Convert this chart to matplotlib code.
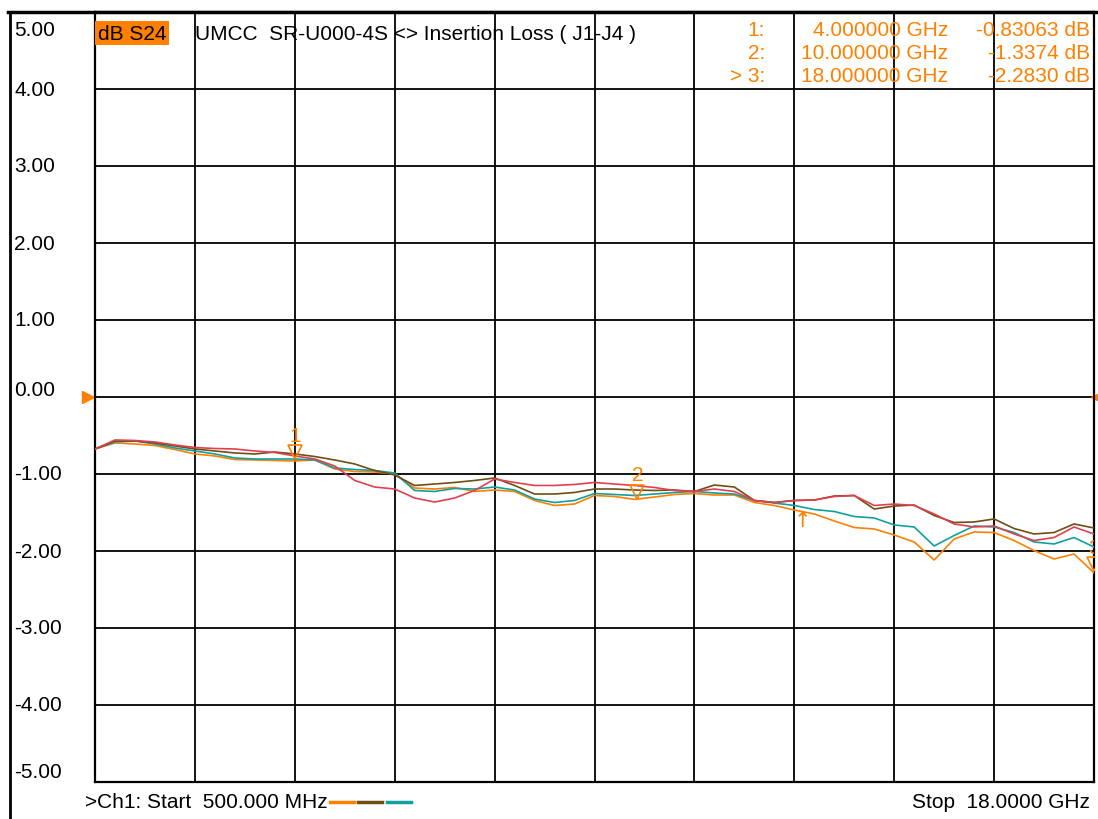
import numpy as np
import matplotlib
matplotlib.use('Agg')
import matplotlib.pyplot as plt
from matplotlib.lines import Line2D
import matplotlib.transforms as mtransforms

plt.rcParams['font.family'] = ['Liberation Sans', 'DejaVu Sans']

# sweep points, GHz
freq = [0.5, 0.85, 1.2, 1.55, 1.9, 2.25, 2.6, 2.95, 3.3, 3.65, 4.0, 4.35, 4.7,
        5.05, 5.4, 5.75, 6.1, 6.45, 6.8, 7.15, 7.5, 7.85, 8.2, 8.55, 8.9, 9.25,
        9.6, 9.95, 10.3, 10.65, 11.0, 11.35, 11.7, 12.05, 12.4, 12.75, 13.1,
        13.45, 13.8, 14.15, 14.5, 14.85, 15.2, 15.55, 15.9, 16.25, 16.6, 16.95,
        17.3, 17.65, 18.0]

s_orange = [-0.675, -0.597, -0.610, -0.630, -0.682, -0.740, -0.766, -0.812, -0.818,
            -0.825, -0.831, -0.818, -0.935, -0.968, -0.974, -1.000, -1.182, -1.195,
            -1.175, -1.227, -1.208, -1.227, -1.344, -1.409, -1.390, -1.279, -1.292,
            -1.330, -1.299, -1.266, -1.253, -1.273, -1.273, -1.370, -1.409, -1.468,
            -1.519, -1.610, -1.695, -1.714, -1.792, -1.883, -2.117, -1.844, -1.753,
            -1.760, -1.864, -1.994, -2.104, -2.039, -2.283]

s_teal = [-0.675, -0.584, -0.571, -0.610, -0.662, -0.701, -0.740, -0.792, -0.805,
          -0.805, -0.805, -0.818, -0.922, -0.942, -0.955, -0.987, -1.214, -1.227,
          -1.188, -1.195, -1.169, -1.208, -1.325, -1.370, -1.344, -1.253, -1.266,
          -1.279, -1.260, -1.240, -1.227, -1.247, -1.260, -1.344, -1.377, -1.409,
          -1.461, -1.487, -1.552, -1.571, -1.662, -1.688, -1.935, -1.799, -1.675,
          -1.688, -1.760, -1.883, -1.909, -1.825, -1.948]

s_brown = [-0.675, -0.571, -0.571, -0.597, -0.636, -0.675, -0.701, -0.727, -0.740,
           -0.714, -0.740, -0.773, -0.818, -0.870, -0.955, -1.013, -1.149, -1.130,
           -1.110, -1.084, -1.052, -1.149, -1.260, -1.260, -1.240, -1.195, -1.195,
           -1.208, -1.214, -1.208, -1.227, -1.143, -1.169, -1.344, -1.370, -1.344,
           -1.338, -1.286, -1.279, -1.455, -1.416, -1.403, -1.539, -1.630, -1.623,
           -1.584, -1.708, -1.779, -1.760, -1.649, -1.701]

s_red = [-0.675, -0.558, -0.565, -0.584, -0.623, -0.656, -0.669, -0.675, -0.701,
         -0.721, -0.766, -0.805, -0.896, -1.084, -1.169, -1.195, -1.312, -1.364,
         -1.312, -1.214, -1.065, -1.110, -1.149, -1.149, -1.136, -1.110, -1.130,
         -1.149, -1.175, -1.214, -1.227, -1.195, -1.227, -1.344, -1.370, -1.344,
         -1.338, -1.292, -1.279, -1.409, -1.390, -1.409, -1.519, -1.649, -1.688,
         -1.675, -1.779, -1.864, -1.825, -1.688, -1.779]

y_ticks = [5, 4, 3, 2, 1, 0, -1, -2, -3, -4, -5]
marker_freq = [4.0, 10.0, 18.0]
marker_val = [-0.83063, -1.3374, -2.2830]
marker_rows = [('1:', '4.000000 GHz', '-0.83063 dB'),
               ('2:', '10.000000 GHz', '-1.3374 dB'),
               ('> 3:', '18.000000 GHz', '-2.2830 dB')]

ORANGE = '#ff8000'
TEAL = '#10a0a0'
BROWN = '#6e4e14'
RED = '#e04050'

W, H = 1098, 820
fig = plt.figure(figsize=(W / 100, H / 100), dpi=100)
fig.patch.set_facecolor('white')


def fx(px):
    return px / W


def fy(py):
    return 1 - py / H


ax = fig.add_axes([fx(95), fy(783), (1094 - 95) / W, (783 - 13) / H])
ax.set_xlim(0.5, 18.0)
ax.set_ylim(-5, 5)
ax.set_xticks(np.arange(0.5, 18.01, 1.75))
ax.set_yticks(y_ticks)
ax.tick_params(length=0, labelleft=False, labelbottom=False)
ax.grid(True, color='black', lw=1.3)
for sp in ax.spines.values():
    sp.set_linewidth(1.6)

ax.plot(freq, s_orange, color=ORANGE, lw=1.2, zorder=3)
ax.plot(freq, s_teal, color=TEAL, lw=1.2, zorder=3)
ax.plot(freq, s_brown, color=BROWN, lw=1.2, zorder=3)
ax.plot(freq, s_red, color=RED, lw=1.2, zorder=3)

# markers
for i, (f, v) in enumerate(zip(marker_freq, marker_val)):
    ax.plot(f, v + 0.11, marker='v', ms=10, mfc='none', mec=ORANGE, mew=1.2,
            zorder=4)
    ax.text(f, v + 0.33, str(i + 1), color=ORANGE, fontsize=15, ha='center',
            va='center', zorder=4, clip_on=True)
ax.text(12.9, -1.47, '↑', color=ORANGE, fontsize=15, ha='center', va='top',
        family=['DejaVu Sans'])

# reference level arrow
tr = mtransforms.blended_transform_factory(ax.transAxes, ax.transData)
ax.plot([-0.007], [0], marker='>', ms=9, color=ORANGE, transform=tr,
        clip_on=False)
ax.plot([1.0], [0], marker='<', ms=4, color=ORANGE, transform=tr, clip_on=False)

# outer frame
fig.add_artist(Line2D([fx(10), fx(10)], [fy(13), fy(820)], color='black', lw=2))
fig.add_artist(Line2D([fx(8), fx(1098)], [fy(13), fy(13)], color='black', lw=2.5))

# y labels
for v in y_ticks:
    py = 13 + (5 - v) * 77
    if v == 5:
        py = 31
    elif v == -5:
        py = 773
    elif v == 0:
        py = 391
    fig.text(fx(14), fy(py), f'{v:.2f}', fontsize=15, ha='left', va='center')

# header
fig.text(fx(98), fy(34), 'dB S24', fontsize=15, ha='left', va='center',
         bbox=dict(facecolor=ORANGE, edgecolor='none', pad=2))
fig.text(fx(195), fy(34), 'UMCC  SR-U000-4S <> Insertion Loss ( J1-J4 )',
         fontsize=15, ha='left', va='center')
for k, (a, b, c) in enumerate(marker_rows):
    py = 31 + k * 22.5
    fig.text(fx(765), fy(py), a, fontsize=15, color=ORANGE, ha='right', va='center')
    fig.text(fx(948), fy(py), b, fontsize=15, color=ORANGE, ha='right', va='center')
    fig.text(fx(1090), fy(py), c, fontsize=15, color=ORANGE, ha='right', va='center')

# footer
fig.text(fx(85), fy(803), '>Ch1: Start  500.000 MHz', fontsize=15, ha='left',
         va='center')
for x0, col in zip([330, 358, 387], [ORANGE, BROWN, TEAL]):
    fig.add_artist(Line2D([fx(x0), fx(x0 + 24)], [fy(803), fy(803)], color=col,
                          lw=2.5))
fig.text(fx(1090), fy(803), 'Stop  18.0000 GHz', fontsize=15, ha='right',
         va='center')

plt.savefig('out.png', dpi=100)
